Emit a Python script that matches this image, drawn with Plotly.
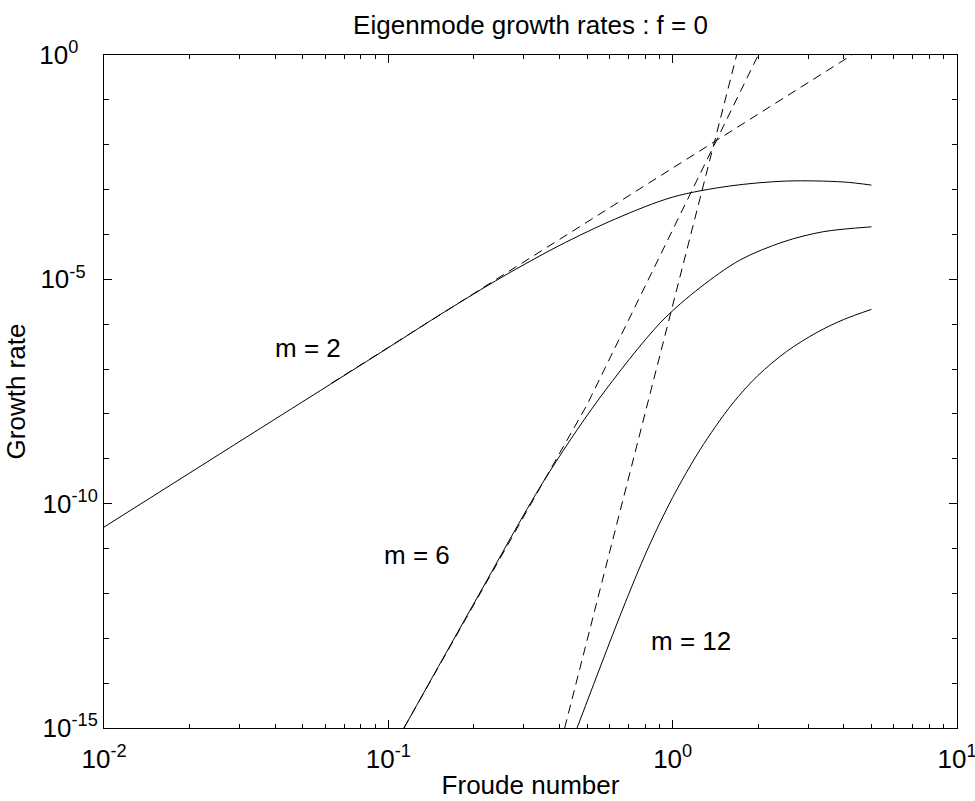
import plotly.graph_objects as go

# ---- data ----
# m = 2, computed growth rate (solid)
froude_m2 = [0.01, 0.0316, 0.1, 0.158, 0.251, 0.398, 0.631, 1.0, 1.585, 2.51, 3.98, 5.0]
rate_m2 = [3.0e-11, 3.0e-9, 3.0e-7, 1.9e-6, 1.12e-5, 5.6e-5, 2.24e-4, 6.8e-4, 1.2e-3, 1.55e-3, 1.48e-3, 1.26e-3]
# m = 2, asymptote (dashed)
froude_m2_asym = [0.063, 0.5, 4.27]
rate_m2_asym = [4.8e-8, 1.9e-4, 1.0]

# m = 6, computed (solid)
froude_m6 = [0.1135, 0.205, 0.350, 0.547, 0.904, 1.247, 1.726, 2.443, 3.381, 5.0]
rate_m6 = [1e-15, 7.9e-13, 3.0e-10, 2.04e-8, 1.07e-6, 6.5e-6, 2.7e-5, 6.8e-5, 1.15e-4, 1.48e-4]
# m = 6, asymptote (dashed)
froude_m6_asym = [0.1135, 0.5, 2.0]
rate_m6_asym = [1e-15, 1.6e-8, 1.0]

# m = 12, computed (solid)
froude_m12 = [0.461, 0.681, 0.832, 1.0, 1.247, 1.618, 1.995, 2.512, 3.221, 3.981, 5.0]
rate_m12 = [1e-15, 6.2e-13, 1.26e-11, 1.38e-10, 1.58e-9, 1.66e-8, 7.2e-8, 2.45e-7, 6.6e-7, 1.26e-6, 2.14e-6]
# m = 12, asymptote (dashed)
froude_m12_asym = [0.417, 0.8, 1.679]
rate_m12_asym = [1e-15, 1.0e-8, 1.0]

x_tickvals = [0.01, 0.1, 1, 10]
x_ticktext = ["10<sup>-2</sup>", "10<sup>-1</sup>", "10<sup>0</sup>", "10<sup>1</sup>"]
x_minor = [k * 10.0 ** e for e in (-2, -1, 0) for k in range(2, 10)]
y_tickvals = [1e-15, 1e-10, 1e-5, 1]
NB = "\u00a0"
y_ticktext = ["10<sup>-15</sup>", "10<sup>-10</sup>", "10<sup>-5" + NB + "</sup>" + NB,
              "10<sup>0" + NB + "</sup>" + NB + NB]
y_minor = [10.0 ** e for e in range(-14, 0) if e % 5 != 0]

labels = ["m = 2", "m = 6", "m = 12"]
label_x = [-1.282, -0.899, 0.065]   # log10 positions
label_y = [-6.53, -11.14, -13.06]

FONT = "Liberation Sans, Arial, Helvetica, sans-serif"

fig = go.Figure()
solid = dict(color="black", width=1, shape="spline", smoothing=0.9)
dashed = dict(color="black", width=1, dash="9px,6px")
for xs, ys in [(froude_m2, rate_m2), (froude_m6, rate_m6), (froude_m12, rate_m12)]:
    fig.add_trace(go.Scatter(x=xs, y=ys, mode="lines", line=solid, showlegend=False))
for xs, ys in [(froude_m2_asym, rate_m2_asym), (froude_m6_asym, rate_m6_asym),
               (froude_m12_asym, rate_m12_asym)]:
    fig.add_trace(go.Scatter(x=xs, y=ys, mode="lines", line=dashed, showlegend=False))

for t, lx, ly in zip(labels, label_x, label_y):
    fig.add_annotation(x=lx, y=ly, xref="x", yref="y", text=t, showarrow=False,
                       font=dict(size=26, color="black", family=FONT))

axis_common = dict(type="log", showline=True, linecolor="black", linewidth=1,
                   mirror="ticks", ticks="inside", ticklen=8, tickcolor="black",
                   showgrid=False, zeroline=False, ticklabeloverflow="allow",
                   automargin=False,
                   tickfont=dict(size=26, color="black", family=FONT))

fig.update_xaxes(range=[-2, 1], tickvals=x_tickvals, ticktext=x_ticktext,
                 ticklabelstandoff=8,
                 minor=dict(tickvals=x_minor, ticks="inside", ticklen=4, tickcolor="black",
                            showgrid=False),
                 title=dict(text="Froude number", font=dict(size=26, color="black", family=FONT),
                            standoff=2),
                 **axis_common)
fig.update_yaxes(range=[-15, 0], tickvals=y_tickvals, ticktext=y_ticktext,
                 minor=dict(tickvals=y_minor, ticks="inside", ticklen=5, tickcolor="black",
                            showgrid=False),
                 title=dict(text="Growth rate", font=dict(size=26, color="black", family=FONT),
                            standoff=6),
                 **axis_common)

fig.update_layout(
    width=975, height=801,
    margin=dict(l=104, r=18, t=55, b=73),
    paper_bgcolor="white", plot_bgcolor="white",
    title=dict(text="Eigenmode growth rates : f = 0", x=(104 + 957) / 2 / 975, xanchor="center",
               y=1 - 25 / 801, yanchor="middle", yref="container",
               font=dict(size=26, color="black", family=FONT)),
    font=dict(family=FONT, color="black"),
)

fig.write_html("out.html")
